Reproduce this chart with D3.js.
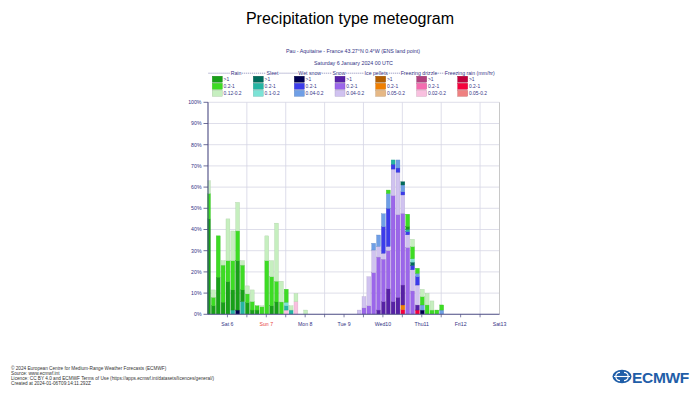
<!DOCTYPE html>
<html>
<head>
<meta charset="utf-8">
<script src="https://cdn.jsdelivr.net/npm/d3@7"></script>
<style>
  body { margin: 0; background: #fff; }
  svg { font-family: "Liberation Sans", Arial, sans-serif; }
</style>
</head>
<body>
<svg id="chart" width="700" height="400"></svg>
<script>
// time steps: every 3 hours from Saturday 6 January 2024 00 UTC
const hours = d3.range(0, 147, 3);

// percentage of members for each type / intensity (layer thickness, %)
// grouped 8 steps per day: Sat, Sun, Mon, Tue, Wed, Thu, Fri(00)
const rainHeavy = [45, 4, 17.5, 5.7, 15.4, 9.5, 23.3, 5.5,
  5.5, 2, 2, 0, 0, 4, 5.8, 0,
  0, 0, 0, 0, 0, 0, 0, 0,
  0, 0, 0, 0, 0, 0, 0, 0,
  0, 0, 0, 0, 0, 0, 0, 0,
  0, 1.5, 0, 0, 0, 0, 0, 0,
  0];
const rainMod = [12, 4, 19.5, 17.5, 9.9, 13.8, 14, 11.7,
  4.1, 4, 2, 3.5, 25.3, 13.7, 9.8, 5.8,
  6.1, 0, 0, 0, 0, 0, 0, 0,
  0, 0, 0, 0, 0, 0, 0, 0,
  0, 0, 0, 0, 0, 1.6, 0, 0,
  0, 5.7, 5.7, 2.4, 3.9, 4.4, 2, 2,
  2.4];
const rainLight = [6, 3.5, 0, 2.1, 19.7, 14, 13.5, 2.1,
  3.8, 5.5, 0, 0.5, 11.7, 7.6, 27.4, 9.8,
  0, 2, 3.8, 0, 2, 0, 0, 0,
  0, 0, 0, 0, 0, 0, 0, 0,
  0, 0, 0, 0, 0, 0, 0, 0,
  0, 0, 3.5, 0, 3.5, 5.5, 4.3, 0,
  0];
const sleetHeavy = [0, 0, 0, 0, 0, 0, 0, 0,
  0, 0, 0, 0, 0, 0, 0, 0,
  0, 0, 0, 0, 0, 0, 0, 0,
  0, 0, 0, 0, 0, 0, 0, 0,
  0, 0, 0, 0, 0, 0, 0, 0,
  1.5, 0, 1.6, 0, 0, 0, 0, 0,
  0];
const sleetMod = [0, 0, 0, 0, 0, 2, 0, 6,
  0, 0, 0, 0, 0, 0, 0, 0,
  2, 2, 0, 0, 0, 0, 0, 0,
  0, 0, 0, 0, 0, 0, 0, 0,
  0, 0, 0, 0, 0, 0, 2, 0,
  0, 1, 0, 0, 0, 0, 0, 0,
  0];
const sleetLight = [0, 0, 0, 0, 0, 0, 0, 0,
  0, 0, 0, 0, 0, 0, 0, 0,
  1.7, 0, 0, 0, 0, 0, 0, 0,
  0, 0, 0, 0, 0, 0, 0, 0,
  0, 0, 0, 0, 0, 0, 0, 0,
  0, 0, 1.6, 0, 0, 0, 0, 0,
  0];
const wetHeavy = [0, 0, 0, 0, 0, 0, 2, 0,
  0, 0, 0, 0, 0, 0, 0, 0,
  0, 0, 0, 0, 0, 0, 0, 0,
  0, 0, 0, 0, 0, 0, 0, 0,
  0, 0, 0, 0, 0, 0, 0, 0,
  0, 0, 0, 0, 2, 0, 0, 0,
  0];
const wetMod = [0, 0, 0, 0, 0, 0, 0, 0,
  0, 0, 0, 0, 0, 0, 0, 0,
  0, 0, 0, 0, 0, 0, 0, 0,
  0, 0, 0, 0, 0, 0, 0, 0,
  0, 0, 0, 0, 12.5, 18, 2.3, 2,
  1.5, 1.5, 2, 3.9, 0, 0, 0, 0,
  0];
const wetLight = [0, 0, 0, 0, 0, 0, 0, 0,
  0, 0, 0, 0, 0, 0, 0, 0,
  0, 0, 0, 0, 0, 0, 0, 0,
  0, 0, 0, 0, 0, 0, 0, 0,
  0, 0, 3.2, 5.4, 6.1, 7, 0, 3.8,
  3.2, 0, 0, 1.6, 2.4, 0, 0, 0,
  2];
const snowHeavy = [0, 0, 0, 0, 0, 0, 0, 0,
  0, 0, 0, 0, 0, 0, 0, 0,
  0, 0, 0, 0, 0, 0, 0, 0,
  0, 0, 0, 0, 0, 0, 0, 0,
  0, 0, 0, 2, 6, 12, 6, 8,
  9.4, 0, 0, 2.4, 0, 0, 0, 0,
  0];
const snowMod = [0, 0, 0, 0, 0, 0, 0, 0,
  0, 0, 0, 0, 0, 0, 0, 0,
  0, 0, 0, 0, 0, 0, 0, 0,
  0, 0, 0, 0, 0, 0, 0, 0,
  3, 4, 19.6, 25, 20, 18, 50, 39,
  33.8, 31.5, 11, 0, 0, 0, 0, 0,
  0];
const snowLight = [0, 0, 0, 0, 0, 0, 0, 0,
  0, 0, 0, 0, 0, 0, 0, 0,
  0, 0, 0, 0, 0, 0, 0, 0,
  0, 0, 0, 0, 0, 0, 0, 2,
  5.3, 13.7, 10.7, 5, 2.8, 2, 12.5, 20,
  8.7, 6, 10, 9.4, 0, 0, 0, 0,
  0];
const icepHeavy = [];
const icepMod = [0, 0, 0, 0, 0, 0, 0, 0,
  0, 0, 0, 0, 0, 0, 0, 0,
  0, 0, 0, 0, 0, 0, 0, 0,
  0, 0, 0, 0, 0, 0, 0, 0,
  0, 0, 0, 0, 0, 0, 0, 0,
  2.2, 0, 0, 0, 0, 0, 0, 0,
  0];
const icepLight = [];
const fzdrHeavy = [];
const fzdrMod = [];
const fzdrLight = [0, 0, 0, 0, 0, 0, 0, 0,
  0, 0, 0, 0, 0, 0, 0, 0,
  2, 0, 6, 0, 0, 0, 0, 0,
  0, 0, 0, 0, 0, 0, 0, 0,
  0, 0, 0, 0, 0, 0, 0, 0,
  0, 0, 0, 0, 0, 0, 0, 0,
  0];
const fzraHeavy = [];
const fzraMod = [0, 0, 0, 0, 0, 0, 0, 0,
  0, 0, 0, 0, 0, 0, 0, 0,
  0, 0, 0, 0, 0, 0, 0, 0,
  0, 0, 0, 0, 0, 0, 0, 0,
  0, 0, 0, 0, 0, 0, 0, 0,
  2.2, 0, 0, 2, 0, 0, 0, 0,
  0];
const fzraLight = [];

// legend texts
const typeNames = ["Rain", "Sleet", "Wet snow", "Snow", "Ice pellets", "Freezing drizzle", "Freezing rain (mm/hr)"];
const levelNames = [
  [">1", "0.2-1", "0.12-0.2"],
  [">1", "0.2-1", "0.1-0.2"],
  [">1", "0.2-1", "0.04-0.2"],
  [">1", "0.2-1", "0.04-0.2"],
  [">1", "0.2-1", "0.05-0.2"],
  [">1", "0.2-1", "0.02-0.2"],
  [">1", "0.2-1", "0.05-0.2"]
];
const typeColors = [
  ["#18a018", "#3ddc24", "#c6efbf"],
  ["#006b5b", "#25b5a3", "#7ce3d6"],
  ["#00004f", "#3b3bea", "#6f9fe6"],
  ["#5620a6", "#9b66ea", "#d0c2f0"],
  ["#b35f00", "#f07f00", "#e6b885"],
  ["#b0407e", "#f46cb0", "#f9c0df"],
  ["#c0003c", "#f5003c", "#ef8080"]
];
const typeSeries = [
  [rainHeavy, rainMod, rainLight],
  [sleetHeavy, sleetMod, sleetLight],
  [wetHeavy, wetMod, wetLight],
  [snowHeavy, snowMod, snowLight],
  [icepHeavy, icepMod, icepLight],
  [fzdrHeavy, fzdrMod, fzdrLight],
  [fzraHeavy, fzraMod, fzraLight]
];
const yTicks = [0, 10, 20, 30, 40, 50, 60, 70, 80, 90, 100];
const dayLabels = ["Sat 6", "Sun 7", "Mon 8", "Tue 9", "Wed10", "Thu11", "Fri12", "Sat13"];

const navy = "#333385";
const gridCol = "#d6d6e4";
const svg = d3.select("#chart");

// titles
svg.append("text").attr("x", 350).attr("y", 24).attr("text-anchor", "middle")
  .attr("font-size", 16).attr("fill", "#000").text("Precipitation type meteogram");
svg.append("text").attr("x", 353).attr("y", 53).attr("text-anchor", "middle")
  .attr("font-size", 5.3).attr("fill", navy)
  .text("Pau - Aquitaine - France 43.27°N 0.4°W (ENS land point)");
svg.append("text").attr("x", 353.5).attr("y", 65.2).attr("text-anchor", "middle")
  .attr("font-size", 5.3).attr("fill", navy)
  .text("Saturday 6 January 2024 00 UTC");

// scales
const x = d3.scaleLinear().domain([0, 180]).range([208, 499.5]);
const y = d3.scaleLinear().domain([0, 100]).range([314.3, 102.3]);
const stepW = x(3) - x(0);
const barW = stepW * 0.8;

// grid
svg.append("g").selectAll("line").data(yTicks.slice(1)).join("line")
  .attr("x1", x(0)).attr("x2", x(180)).attr("y1", d => y(d)).attr("y2", d => y(d))
  .attr("stroke", gridCol).attr("stroke-width", 0.8);
svg.append("g").selectAll("line").data([24, 48, 72, 96, 120, 144, 168]).join("line")
  .attr("x1", d => x(d)).attr("x2", d => x(d)).attr("y1", y(0)).attr("y2", y(100))
  .attr("stroke", gridCol).attr("stroke-width", 0.8);
svg.append("line").attr("x1", x(180)).attr("x2", x(180)).attr("y1", y(0)).attr("y2", y(100))
  .attr("stroke", "#c8c8c8").attr("stroke-width", 1);

// stacked bars, bottom: freezing rain ... top: rain; heavy below light
const keys = [];
const colorOf = {};
const seriesOf = {};
for (let t = typeNames.length - 1; t >= 0; t--) {
  for (let l = 0; l < 3; l++) {
    const k = "t" + t + "l" + l;
    keys.push(k);
    colorOf[k] = typeColors[t][l];
    seriesOf[k] = typeSeries[t][l];
  }
}
const rows = hours.map((h, i) => {
  const r = { h: h };
  keys.forEach(k => { r[k] = seriesOf[k][i] || 0; });
  return r;
});
const stacked = d3.stack().keys(keys)(rows);

svg.append("clipPath").attr("id", "plotClip").append("rect")
  .attr("x", x(0) - 0.6).attr("y", y(100)).attr("width", x(180) - x(0)).attr("height", y(0) - y(100));
const barG = svg.append("g").attr("clip-path", "url(#plotClip)");
stacked.forEach(layer => {
  const c = colorOf[layer.key];
  barG.append("g").selectAll("rect")
    .data(layer.filter(d => d[1] - d[0] > 0))
    .join("rect")
    .attr("x", d => x(d.data.h) - barW / 2 + 0.5)
    .attr("y", d => y(d[1]))
    .attr("width", barW)
    .attr("height", d => y(d[0]) - y(d[1]))
    .attr("fill", c)
    .attr("stroke", d3.color(c).darker(0.4))
    .attr("stroke-width", 0.35);
});

// y axis
svg.append("line").attr("x1", x(0)).attr("x2", x(0)).attr("y1", y(0)).attr("y2", y(100))
  .attr("stroke", "#4a4a82").attr("stroke-width", 1.1);
const yAx = svg.append("g");
yAx.selectAll("line").data(yTicks).join("line")
  .attr("x1", x(0) - 4.5).attr("x2", x(0)).attr("y1", d => y(d)).attr("y2", d => y(d))
  .attr("stroke", "#4a4a82").attr("stroke-width", 0.8);
yAx.selectAll("text").data(yTicks).join("text")
  .attr("x", 201.5).attr("y", d => y(d) + 1.8).attr("text-anchor", "end")
  .attr("font-size", 5.2).attr("fill", navy).text(d => d + "%");

// x axis
svg.append("line").attr("x1", x(0)).attr("x2", x(180)).attr("y1", y(0)).attr("y2", y(0))
  .attr("stroke", "#4a4a82").attr("stroke-width", 1.1);
svg.append("g").selectAll("line").data(d3.range(12, 180, 12)).join("line")
  .attr("x1", d => x(d)).attr("x2", d => x(d)).attr("y1", y(0)).attr("y2", y(0) + 3)
  .attr("stroke", "#4a4a82").attr("stroke-width", 0.7);
svg.append("g").selectAll("text").data(dayLabels).join("text")
  .attr("x", (d, i) => x(12 + 24 * i)).attr("y", 326)
  .attr("text-anchor", "middle").attr("font-size", 5.2)
  .attr("fill", d => d.startsWith("Sun") ? "#e8433a" : navy)
  .text(d => d);

// legend
const legX = [212.3, 253.3, 294.3, 335, 375.7, 416.7, 457.7];
const headCenters = [236, 272.5, 309.7, 339, 376.3, 419, 469.8];
const rowY = [76.2, 83.3, 90.3];
const legG = svg.append("g");
typeNames.forEach((name, t) => {
  for (let l = 0; l < 3; l++) {
    legG.append("rect").attr("x", legX[t]).attr("y", rowY[l]).attr("width", 10).attr("height", 6)
      .attr("fill", typeColors[t][l]).attr("stroke", d3.color(typeColors[t][l]).darker(0.6))
      .attr("stroke-width", 0.4);
    legG.append("text").attr("x", legX[t] + 11.3).attr("y", rowY[l] + 4.3)
      .attr("font-size", 4.9).attr("fill", navy).text(levelNames[t][l]);
  }
});
const heads = legG.selectAll("text.head").data(typeNames).join("text")
  .attr("class", "head")
  .attr("x", (d, i) => headCenters[i]).attr("y", 74.9).attr("text-anchor", "middle")
  .attr("font-size", 5.2).attr("fill", navy).text(d => d);
const spans = [];
heads.each(function () { const b = this.getBBox(); spans.push([b.x, b.x + b.width]); });
let prev = 208;
spans.forEach(s => {
  if (s[0] - prev > 1) {
    legG.append("line").attr("x1", prev + 0.4).attr("x2", s[0] - 0.4)
      .attr("y1", 73.2).attr("y2", 73.2)
      .attr("stroke", navy).attr("stroke-width", 0.45).attr("stroke-dasharray", "1.3,0.7");
  }
  prev = s[1];
});

// footer
const footer = [
  "© 2024 European Centre for Medium-Range Weather Forecasts (ECMWF)",
  "Source: www.ecmwf.int",
  "Licence: CC BY 4.0 and ECMWF Terms of Use (https://apps.ecmwf.int/datasets/licences/general/)",
  "Created at 2024-01-06T09:14:11.292Z"
];
svg.append("g").selectAll("text").data(footer).join("text")
  .attr("x", 11).attr("y", (d, i) => 369.8 + i * 5)
  .attr("font-size", 4.7).attr("fill", "#333").text(d => d);

// ECMWF logo
const logo = svg.append("g");
logo.append("ellipse").attr("cx", 622).attr("cy", 376.5).attr("rx", 9.5).attr("ry", 6.8).attr("fill", "#1f5ea8");
logo.append("path").attr("d", "M620,372.3 A4.2,4.2 0 1 0 620,380.7 M624,372.3 A4.2,4.2 0 1 1 624,380.7")
  .attr("fill", "none").attr("stroke", "#fff").attr("stroke-width", 1.2);
logo.append("line").attr("x1", 614).attr("x2", 630).attr("y1", 376.5).attr("y2", 376.5)
  .attr("stroke", "#fff").attr("stroke-width", 1.1);
logo.append("text").attr("x", 632).attr("y", 382.5).attr("font-size", 15.5).attr("font-weight", "bold")
  .attr("fill", "#1f5ea8").attr("letter-spacing", -0.3).text("ECMWF");
</script>
</body>
</html>
